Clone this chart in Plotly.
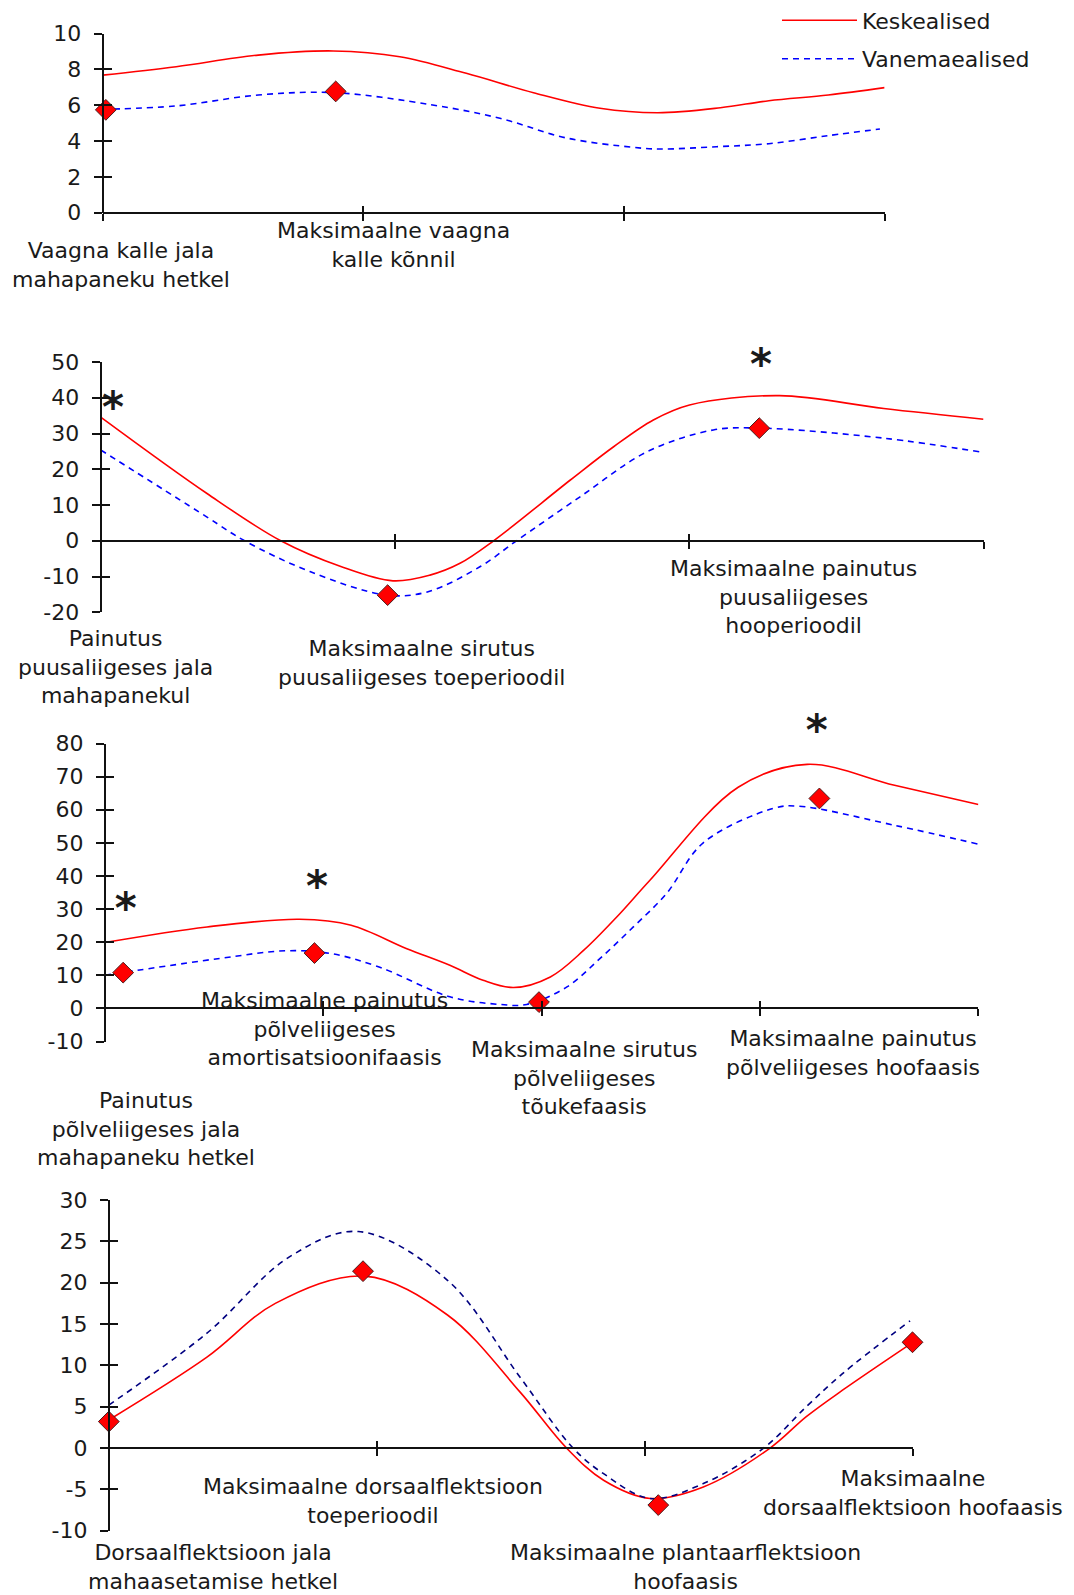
import plotly.graph_objects as go

# ------------------------------------------------------------------ data
series_names = ["Keskealised", "Vanemaealised"]

# Panel 1 - vaagna kalle (x = % of gait cycle)
p1_kesk_x = [0, 9.4, 19.9, 29.5, 38.0, 46.5, 55.1, 63.6, 71.0, 79.0, 85.2, 92.8, 100]
p1_kesk_y = [7.68, 8.15, 8.8, 9.03, 8.71, 7.78, 6.7, 5.83, 5.58, 5.86, 6.25, 6.57, 6.98]
p1_van_x = [0, 9.4, 19.9, 29.7, 42.2, 50.8, 59.3, 67.8, 71.2, 78.5, 85.2, 92.8, 99.4]
p1_van_y = [5.77, 5.96, 6.57, 6.7, 6.01, 5.27, 4.17, 3.65, 3.55, 3.68, 3.85, 4.3, 4.67]
p1_mark_x = [0.4, 29.8]
p1_mark_y = [5.74, 6.77]
p1_star_x = []
p1_star_y = []
p1_xticks = [0, 33.33, 66.67, 100]
p1_yticks = [0, 2, 4, 6, 8, 10]
p1_ytick_text = ["0", "2", "4", "6", "8", "10"]
p1_labels = ["Vaagna kalle jala<br>mahapaneku hetkel",
             "Maksimaalne vaagna<br>kalle kõnnil"]

# Panel 2 - puusaliiges
p2_kesk_x = [0, 12.0, 20.4, 27.2, 33.1, 37.3, 40.7, 44.5, 53.2, 58.1, 62.6, 66.7, 76.9, 88.7, 100]
p2_kesk_y = [34.6, 13.3, 0, -7.2, -11.2, -9.6, -6.3, 0, 17.0, 26.3, 33.8, 38.0, 40.6, 37.0, 34.0]
p2_van_x = [0, 12.0, 16.3, 23.7, 32.4, 37.0, 43.0, 47.1, 54.3, 61.9, 69.4, 74.8, 88.7, 100]
p2_van_y = [25.4, 6.7, 0, -8.6, -15.2, -14.3, -7.2, 0, 12.3, 24.9, 31.0, 31.5, 28.7, 24.7]
p2_mark_x = [-0.35, 32.5, 74.6]
p2_mark_y = [26.4, -15.2, 31.5]
p2_star_x = [1.4, 74.8]
p2_star_y = [30.3, 42.3]
p2_xticks = [0, 33.33, 66.67, 100]
p2_yticks = [-20, -10, 0, 10, 20, 30, 40, 50]
p2_ytick_text = ["-20", "-10", "0", "10", "20", "30", "40", "50"]
p2_labels = ["Painutus<br>puusaliigeses jala<br>mahapanekul",
             "Maksimaalne sirutus<br>puusaliigeses toeperioodil",
             "Maksimaalne painutus<br>puusaliigeses<br>hooperioodil"]

# Panel 3 - põlveliiges
p3_kesk_x = [0, 11.7, 22.3, 28.2, 34.5, 39.5, 43.3, 46.8, 51.0, 54.8, 58.6, 62.4, 72.5, 80.4, 90.4, 100]
p3_kesk_y = [19.9, 24.6, 26.9, 25.1, 18.1, 13.0, 8.5, 6.3, 9.5, 17.5, 27.6, 38.7, 66.8, 73.7, 67.4, 61.6]
p3_van_x = [0, 13.2, 20.7, 25.8, 31.4, 39.5, 45.2, 48.3, 52.9, 56.7, 60.5, 64.3, 68.5, 76.5, 79.3, 90.4, 100]
p3_van_y = [10.0, 15.1, 17.4, 16.6, 12.5, 3.5, 1.2, 1.2, 6.5, 15.1, 24.6, 34.7, 50.0, 60.4, 61.1, 55.3, 49.6]
p3_mark_x = [2.1, 24.0, 49.7, 81.8]
p3_mark_y = [10.8, 16.7, 1.9, 63.4]
p3_star_x = [2.4, 24.3, 81.5]
p3_star_y = [22.5, 29.2, 76.5]
p3_xticks = [0, 25, 50, 75, 100]
p3_yticks = [-10, 0, 10, 20, 30, 40, 50, 60, 70, 80]
p3_ytick_text = ["-10", "0", "10", "20", "30", "40", "50", "60", "70", "80"]
p3_labels = ["Painutus<br>põlveliigeses jala<br>mahapaneku hetkel",
             "Maksimaalne painutus<br>põlveliigeses<br>amortisatsioonifaasis",
             "Maksimaalne sirutus<br>põlveliigeses<br>tõukefaasis",
             "Maksimaalne painutus<br>põlveliigeses hoofaasis"]

# Panel 4 - hüppeliiges
p4_kesk_x = [0, 12.2, 20.7, 31.8, 42.1, 51.1, 56.9, 61.5, 67.3, 73.9, 82.2, 86.7, 91.2, 99.8]
p4_kesk_y = [3.4, 11.0, 17.5, 20.8, 16.1, 6.8, 0, -3.9, -6.1, -4.7, 0, 3.8, 7.0, 12.7]
p4_van_x = [0, 12.2, 22.4, 31.0, 42.1, 51.1, 57.7, 61.5, 67.3, 73.9, 81.4, 86.7, 91.2, 99.6]
p4_van_y = [5.2, 13.9, 23.1, 26.2, 20.3, 8.6, 0, -3.1, -6.1, -4.3, 0, 5.0, 9.0, 15.4]
p4_mark_x = [0, 31.6, 68.3, 99.9]
p4_mark_y = [3.2, 21.4, -6.9, 12.8]
p4_star_x = []
p4_star_y = []
p4_xticks = [0, 33.33, 66.67, 100]
p4_yticks = [-10, -5, 0, 5, 10, 15, 20, 25, 30]
p4_ytick_text = ["-10", "-5", "0", "5", "10", "15", "20", "25", "30"]
p4_labels = ["Dorsaalflektsioon jala<br>mahaasetamise hetkel",
             "Maksimaalne dorsaalflektsioon<br>toeperioodil",
             "Maksimaalne plantaarflektsioon<br>hoofaasis",
             "Maksimaalne<br>dorsaalflektsioon hoofaasis"]

# ------------------------------------------------------------------ layout / style
W, H = 1074, 1595
PAGE_OFFSET = 8          # default body margin of the html page
FONT = "DejaVu Sans"
TXT = "#1a1a1a"
AXIS = "#111111"
RED = "#FF0000"
BLUE = "#0000FF"
NAVY = "#000080"
LABEL_SIZE = 22


def fx(v):
    return (v - PAGE_OFFSET) / W


def fy(v):
    return 1 - (v - PAGE_OFFSET) / H


panels = [
    dict(kx=p1_kesk_x, ky=p1_kesk_y, vx=p1_van_x, vy=p1_van_y, mx=p1_mark_x, my=p1_mark_y,
         sx=p1_star_x, sy=p1_star_y, ticks=p1_xticks, labels=p1_labels,
         yt=p1_yticks, ytt=p1_ytick_text,
         yr=[0, 10], blue=BLUE, xpix=(102.7, 884.6), ypix=(212.6, 33.6),
         lab_pos=[(121, 264.5), (393, 245)]),
    dict(kx=p2_kesk_x, ky=p2_kesk_y, vx=p2_van_x, vy=p2_van_y, mx=p2_mark_x, my=p2_mark_y,
         sx=p2_star_x, sy=p2_star_y, ticks=p2_xticks, labels=p2_labels,
         yt=p2_yticks, ytt=p2_ytick_text,
         yr=[-20, 50], blue=BLUE, xpix=(100.7, 983.5), ypix=(612.3, 362.0),
         lab_pos=[(115, 667), (421, 663), (793, 597)]),
    dict(kx=p3_kesk_x, ky=p3_kesk_y, vx=p3_van_x, vy=p3_van_y, mx=p3_mark_x, my=p3_mark_y,
         sx=p3_star_x, sy=p3_star_y, ticks=p3_xticks, labels=p3_labels,
         yt=p3_yticks, ytt=p3_ytick_text,
         yr=[-10, 80], blue=BLUE, xpix=(104.8, 978.4), ypix=(1041.5, 743.5),
         lab_pos=[(146, 1129), (324, 1029), (584, 1078), (853, 1053)]),
    dict(kx=p4_kesk_x, ky=p4_kesk_y, vx=p4_van_x, vy=p4_van_y, mx=p4_mark_x, my=p4_mark_y,
         sx=p4_star_x, sy=p4_star_y, ticks=p4_xticks, labels=p4_labels,
         yt=p4_yticks, ytt=p4_ytick_text,
         yr=[-10, 30], blue=NAVY, xpix=(108.8, 913.3), ypix=(1530.7, 1200.1),
         lab_pos=[(213, 1567), (373, 1501), (686, 1567), (913, 1493)]),
]

fig = go.Figure()
layout = dict(
    width=W, height=H,
    margin=dict(l=0, r=0, t=0, b=0, autoexpand=False),
    paper_bgcolor="white", plot_bgcolor="rgba(0,0,0,0)",
    font=dict(family=FONT, size=LABEL_SIZE, color=TXT),
    showlegend=True,
    legend=dict(x=fx(777), y=fy(-0.6), xanchor="left", yanchor="top",
                font=dict(family=FONT, size=LABEL_SIZE, color=TXT),
                itemwidth=75, tracegroupgap=7, traceorder="grouped",
                bgcolor="rgba(0,0,0,0)"),
)
annotations = []

for i, p in enumerate(panels, start=1):
    j = i + 4
    x0, x1 = fx(p["xpix"][0]), fx(p["xpix"][1])
    y0, y1 = fy(p["ypix"][0]), fy(p["ypix"][1])
    ymin, ymax = p["yr"]
    zero_pos = y0 + (0 - ymin) / (ymax - ymin) * (y1 - y0)

    common_x = dict(range=[0, 100], tickmode="array", tickvals=p["ticks"],
                    showticklabels=False, showgrid=False, zeroline=False,
                    tickcolor=AXIS, tickwidth=2, ticklen=7, anchor="free",
                    position=zero_pos, fixedrange=True, automargin=False)
    common_y = dict(range=p["yr"], tickmode="array", tickvals=p["yt"],
                    showgrid=False, zeroline=False, tickcolor=AXIS, tickwidth=2,
                    ticklen=8, anchor="free", position=x0, fixedrange=True,
                    automargin=False)

    layout[f"xaxis{i}"] = dict(domain=[x0, x1], showline=True, linecolor=AXIS,
                               linewidth=2, ticks="outside", **common_x)
    layout[f"yaxis{i}"] = dict(domain=[y0, y1], showline=True, linecolor=AXIS,
                               linewidth=2, ticks="outside", showticklabels=True,
                               ticktext=p["ytt"], ticklabelstandoff=8,
                               tickfont=dict(family=FONT, size=22, color=TXT),
                               **common_y)
    # overlay axes give the crossing half of each tick mark
    layout[f"xaxis{j}"] = dict(overlaying=f"x{i}", domain=[x0, x1], showline=False,
                               ticks="inside", **common_x)
    layout[f"yaxis{j}"] = dict(overlaying=f"y{i}", domain=[y0, y1], showline=False,
                               ticks="inside", showticklabels=False, **common_y)

    fig.add_trace(go.Scatter(x=[None], y=[None], xaxis=f"x{j}", yaxis=f"y{j}",
                             showlegend=False, hoverinfo="skip"))

    fig.add_trace(go.Scatter(
        x=p["kx"], y=p["ky"], mode="lines", name=series_names[0],
        line=dict(color=RED, width=1.6, shape="spline", smoothing=1.0),
        xaxis=f"x{i}", yaxis=f"y{i}", legendgroup="k", showlegend=(i == 1)))
    fig.add_trace(go.Scatter(
        x=p["vx"], y=p["vy"], mode="lines", name=series_names[1],
        line=dict(color=p["blue"], width=1.6, dash="6px,5px", shape="spline", smoothing=1.0),
        xaxis=f"x{i}", yaxis=f"y{i}", legendgroup="v", showlegend=(i == 1)))
    fig.add_trace(go.Scatter(
        x=p["mx"], y=p["my"], mode="markers", showlegend=False, cliponaxis=False,
        marker=dict(symbol="diamond", size=16, color=RED,
                    line=dict(color="#4a1c1c", width=1)),
        xaxis=f"x{i}", yaxis=f"y{i}"))
    if p["sx"]:
        # significance asterisks sit just above their anchor points
        fig.add_trace(go.Scatter(
            x=p["sx"], y=p["sy"], mode="text", text=["*"] * len(p["sx"]),
            textposition="top center", cliponaxis=False, showlegend=False,
            textfont=dict(family=FONT, size=42, color=TXT, weight="bold"),
            hoverinfo="skip", xaxis=f"x{i}", yaxis=f"y{i}"))

    for txt, (lx, ly) in zip(p["labels"], p["lab_pos"]):
        annotations.append(dict(x=fx(lx), y=fy(ly), xref="paper", yref="paper",
                                text=txt, showarrow=False, align="center",
                                xanchor="center", yanchor="middle",
                                font=dict(family=FONT, size=LABEL_SIZE, color=TXT)))

layout["annotations"] = annotations
fig.update_layout(**layout)
fig.write_html("out.html")
